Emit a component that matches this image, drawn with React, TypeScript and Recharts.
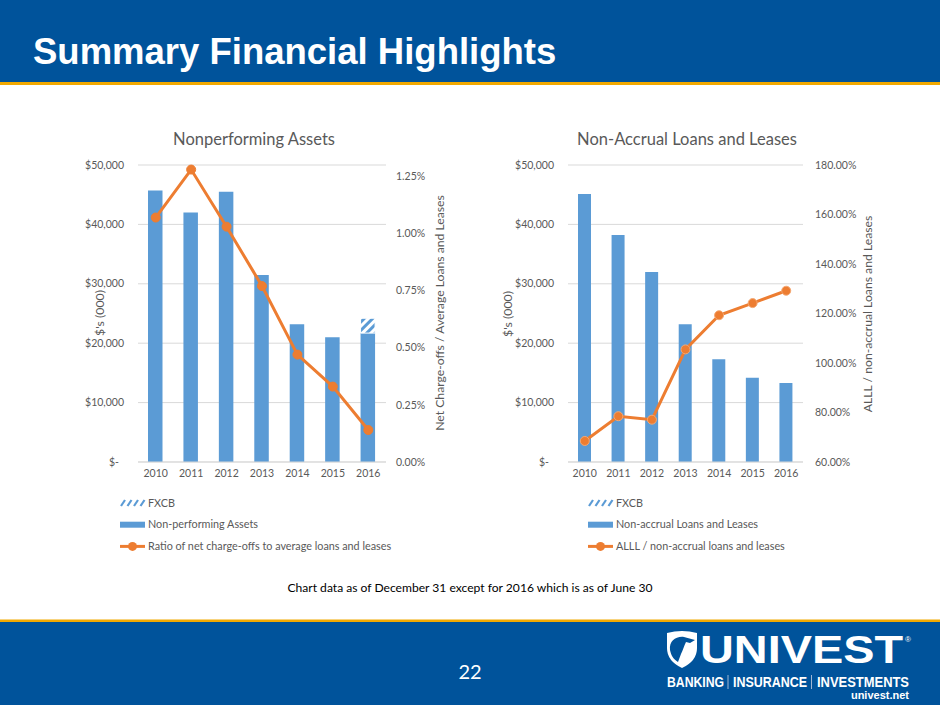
import React from 'react';
import { ComposedChart, Bar, Line, XAxis, YAxis, CartesianGrid } from 'recharts';

// ---------- data ----------
const years = ['2010', '2011', '2012', '2013', '2014', '2015', '2016'];
const nonPerformingAssets = [45700, 42000, 45500, 31500, 23200, 21000, 21700];
const fxcbAssets = [0, 0, 0, 0, 0, 0, 2500];
const chargeOffRatio = [1.07, 1.28, 1.03, 0.77, 0.47, 0.33, 0.14];
const nonAccrualLoans = [45100, 38200, 32000, 23200, 17300, 14200, 13300];
const alllRatio = [68.5, 78.5, 77.1, 105.5, 119.3, 124.2, 129.2];
const dollarTicks = [0, 10000, 20000, 30000, 40000, 50000];
const chargeOffTicks = [0, 0.25, 0.5, 0.75, 1.0, 1.25];
const alllTicks = [60, 80, 100, 120, 140, 160, 180];

const npaData = years.map((year, i) => ({
  year,
  npa: nonPerformingAssets[i],
  fxcb: fxcbAssets[i],
  ratio: chargeOffRatio[i],
}));
const nalData = years.map((year, i) => ({
  year,
  nal: nonAccrualLoans[i],
  alll: alllRatio[i],
}));

// ---------- style ----------
const FONT = 'Lato, "Open Sans", sans-serif';
const SANS = '"Liberation Sans", Arial, sans-serif';
const TEXT = '#595959';
const BLUE = '#5B9BD5';
const ORANGE = '#ED7D31';
const GRID = '#D9D9D9';
const NAVY = '#00539B';
const GOLD = '#F2A900';

const tickStyle = { fill: TEXT, fontSize: 10.5, fontFamily: FONT };

function DollarTick(props: any) {
  const { x, y, payload } = props;
  const v = payload.value as number;
  const label = v === 0 ? '$-' : '$' + v.toLocaleString('en-US');
  return (
    <text x={v === 0 ? x - 5 : x} y={y} dy="0.35em" textAnchor="end" fill={TEXT} fontSize={10.5} fontFamily={FONT}>
      {label}
    </text>
  );
}

const pct = (v: number) => v.toFixed(2) + '%';

function NpaChart() {
  return (
    <ComposedChart width={400} height={372} data={npaData} margin={{ top: 45, right: 14, bottom: 0, left: 18 }}>
      <defs>
        <pattern id="fxcbHatch" patternUnits="userSpaceOnUse" width="6" height="6" patternTransform="rotate(45)">
          <rect width="6" height="6" fill="#ffffff" />
          <rect width="3" height="6" fill={BLUE} />
        </pattern>
      </defs>
      <CartesianGrid yAxisId="left" vertical={false} stroke={GRID} />
      <XAxis dataKey="year" height={30} tickLine={false} axisLine={{ stroke: GRID }} tick={tickStyle} />
      <YAxis
        yAxisId="left"
        width={60}
        domain={[0, 50000]}
        ticks={dollarTicks}
        axisLine={false}
        tickLine={false}
        tickMargin={8}
        tick={<DollarTick />}
      />
      <YAxis
        yAxisId="right"
        orientation="right"
        width={60}
        domain={[0, 1.3]}
        ticks={chargeOffTicks}
        axisLine={false}
        tickLine={false}
        tickMargin={4}
        tickFormatter={pct}
        tick={tickStyle}
      />
      <Bar yAxisId="left" dataKey="npa" stackId="a" fill={BLUE} barSize={14.5} isAnimationActive={false} />
      <Bar yAxisId="left" dataKey="fxcb" stackId="a" fill="url(#fxcbHatch)" stroke="#ffffff" strokeWidth={1} barSize={14.5} isAnimationActive={false} />
      <Line
        yAxisId="right"
        dataKey="ratio"
        stroke={ORANGE}
        strokeWidth={3}
        dot={{ r: 4.5, fill: ORANGE, stroke: ORANGE, strokeWidth: 1 }}
        activeDot={false}
        isAnimationActive={false}
      />
    </ComposedChart>
  );
}

function NalChart() {
  return (
    <ComposedChart width={430} height={372} data={nalData} margin={{ top: 45, right: 27, bottom: 0, left: 38 }}>
      <CartesianGrid yAxisId="left" vertical={false} stroke={GRID} />
      <XAxis dataKey="year" height={30} tickLine={false} axisLine={{ stroke: GRID }} tick={tickStyle} />
      <YAxis
        yAxisId="left"
        width={60}
        domain={[0, 50000]}
        ticks={dollarTicks}
        axisLine={false}
        tickLine={false}
        tickMargin={8}
        tick={<DollarTick />}
      />
      <YAxis
        yAxisId="right"
        orientation="right"
        width={70}
        domain={[60, 180]}
        ticks={alllTicks}
        axisLine={false}
        tickLine={false}
        tickMargin={6}
        tickFormatter={pct}
        tick={tickStyle}
      />
      <Bar yAxisId="left" dataKey="nal" fill={BLUE} barSize={13} isAnimationActive={false} />
      <Line
        yAxisId="right"
        dataKey="alll"
        stroke={ORANGE}
        strokeWidth={3}
        dot={{ r: 4.5, fill: ORANGE, stroke: '#F4A873', strokeWidth: 1 }}
        activeDot={false}
        isAnimationActive={false}
      />
    </ComposedChart>
  );
}

function LegendBlock({ x, y, barLabel, lineLabel }: { x: number; y: number; barLabel: string; lineLabel: string }) {
  const ty = (row: number) => y + row * 21.7;
  return (
    <g fontFamily={FONT} fontSize={10.8} fill={TEXT}>
      {[0, 1, 2, 3].map((k) => (
        <line key={k} x1={x + 1 + k * 6.5} y1={ty(0) + 3} x2={x + 5 + k * 6.5} y2={ty(0) - 3} stroke={BLUE} strokeWidth={2.2} />
      ))}
      <text x={x + 28} y={ty(0)} dy="0.35em">FXCB</text>
      <rect x={x} y={ty(1) - 3} width={25} height={6} fill={BLUE} />
      <text x={x + 28} y={ty(1)} dy="0.35em">{barLabel}</text>
      <line x1={x} y1={ty(2)} x2={x + 25} y2={ty(2)} stroke={ORANGE} strokeWidth={3} />
      <circle cx={x + 12.5} cy={ty(2)} r={4.5} fill={ORANGE} />
      <text x={x + 28} y={ty(2)} dy="0.35em">{lineLabel}</text>
    </g>
  );
}

function PageDecor() {
  return (
    <svg width={940} height={705} style={{ position: 'absolute', left: 0, top: 0 }}>
      {/* header */}
      <rect x={0} y={0} width={940} height={82} fill={NAVY} />
      <rect x={0} y={82} width={940} height={3} fill={GOLD} />
      <text x={33} y={64} fill="#ffffff" fontFamily={SANS} fontWeight={700} fontSize={36.5}>
        Summary Financial Highlights
      </text>

      {/* chart titles */}
      <text x={254} y={145} textAnchor="middle" fill={TEXT} fontFamily={FONT} fontSize={16.5}>Nonperforming Assets</text>
      <text x={687} y={145} textAnchor="middle" fill={TEXT} fontFamily={FONT} fontSize={16.5}>Non-Accrual Loans and Leases</text>

      {/* axis titles */}
      <text transform="translate(100,313) rotate(-90)" textAnchor="middle" dy="0.35em" fill={TEXT} fontFamily={FONT} fontSize={12.3}>$'s (000)</text>
      <text transform="translate(440,313) rotate(-90)" textAnchor="middle" dy="0.35em" fill={TEXT} fontFamily={FONT} fontSize={12.2}>Net Charge-offs / Average Loans and Leases</text>
      <text transform="translate(508,314) rotate(-90)" textAnchor="middle" dy="0.35em" fill={TEXT} fontFamily={FONT} fontSize={12.3}>$'s (000)</text>
      <text transform="translate(868,314) rotate(-90)" textAnchor="middle" dy="0.35em" fill={TEXT} fontFamily={FONT} fontSize={12.2}>ALLL / non-accrual Loans and Leases</text>

      {/* legends */}
      <LegendBlock x={120} y={503} barLabel="Non-performing Assets" lineLabel="Ratio of net charge-offs to average loans and leases" />
      <LegendBlock x={588} y={503} barLabel="Non-accrual Loans and Leases" lineLabel="ALLL / non-accrual loans and leases" />

      {/* note */}
      <text x={470} y={588} dy="0.35em" textAnchor="middle" fill="#000000" fontFamily={FONT} fontSize={12.1}>
        Chart data as of December 31 except for 2016 which is as of June 30
      </text>

      {/* footer */}
      <rect x={0} y={619.5} width={940} height={3} fill={GOLD} />
      <rect x={0} y={622} width={940} height={83} fill={NAVY} />
      <text x={470} y={672} dy="0.35em" textAnchor="middle" fill="#ffffff" fontFamily={FONT} fontSize={20}>22</text>

      {/* logo */}
      <path d="M667,633 Q682,629 697,633 L697,648 Q697,661 682,668 Q667,661 667,648 Z" fill="#ffffff" />
      <path d="M670,650 C669,641 676,636 684,637 L695,640 L690,643 L686,642 C684,646 683,650 681,654 L678,662 C673,659 671,655 670,650 Z" fill={NAVY} />
      <text x={700} y={663} fill="#ffffff" fontFamily={SANS} fontWeight={900} fontSize={38} textLength={203} lengthAdjust="spacingAndGlyphs">
        UNIVEST
      </text>
      <text x={905} y={642} fill="#ffffff" fontFamily={SANS} fontSize={8}>®</text>
      <text x={667} y={687} fill="#ffffff" fontFamily={SANS} fontWeight={700} fontSize={14.5} textLength={57} lengthAdjust="spacingAndGlyphs">BANKING</text>
      <line x1={728} y1={675} x2={728} y2={689} stroke="#9FB6D3" strokeWidth={1} />
      <text x={733} y={687} fill="#ffffff" fontFamily={SANS} fontWeight={700} fontSize={14.5} textLength={74} lengthAdjust="spacingAndGlyphs">INSURANCE</text>
      <line x1={811.5} y1={675} x2={811.5} y2={689} stroke="#9FB6D3" strokeWidth={1} />
      <text x={817} y={687} fill="#ffffff" fontFamily={SANS} fontWeight={700} fontSize={14.5} textLength={92} lengthAdjust="spacingAndGlyphs">INVESTMENTS</text>
      <text x={909} y={699} textAnchor="end" fill="#ffffff" fontFamily={SANS} fontWeight={700} fontSize={11}>
        univest.net
      </text>
    </svg>
  );
}

export default function App() {
  return (
    <div style={{ position: 'absolute', left: 0, top: 0, width: 940, height: 705, background: '#ffffff', overflow: 'hidden' }}>
      <PageDecor />
      <div style={{ position: 'absolute', left: 60, top: 120 }}>
        <NpaChart />
      </div>
      <div style={{ position: 'absolute', left: 470, top: 120 }}>
        <NalChart />
      </div>
    </div>
  );
}
